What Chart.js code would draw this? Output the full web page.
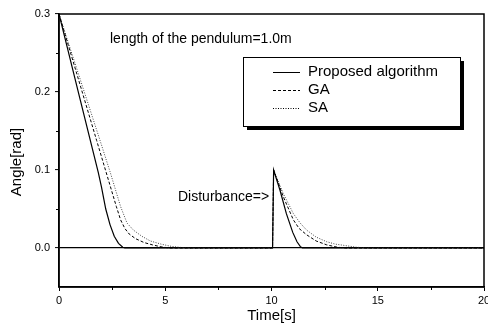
<!DOCTYPE html>
<html>
<head>
<meta charset="utf-8">
<script src="https://cdn.jsdelivr.net/npm/chart.js@4.4.1/dist/chart.umd.min.js"></script>
<style>
    body { margin: 0; background: #fff; }
    canvas { display: block; }
</style>
</head>
<body>
<canvas id="pendulumChart" width="488" height="333"></canvas>
<script>
// values
const timeProposed = [0, 1.0, 1.85, 2.0, 2.2, 2.4, 2.6, 2.8, 3.0, 3.1, 10.05, 10.1, 10.4, 10.7, 11.0, 11.2, 11.35, 11.45, 20];
const angleProposed = [0.3, 0.19, 0.0965, 0.078, 0.05, 0.03, 0.015, 0.006, 0.001, 0, 0, 0.1, 0.074, 0.044, 0.02, 0.008, 0.002, 0, 0];

const timeGA = [0, 1.77, 2.7, 2.9, 3.1, 3.3, 3.6, 4.0, 4.4, 4.8, 5.2, 10.05, 10.1, 10.55, 11.03, 11.3, 11.65, 12.1, 12.6, 13.1, 13.5, 20];
const angleGA = [0.3, 0.138, 0.053, 0.036, 0.025, 0.018, 0.012, 0.007, 0.004, 0.0015, 0, 0, 0.1, 0.066, 0.036, 0.025, 0.017, 0.009, 0.004, 0.001, 0, 0];

const timeSA = [0, 1.93, 2.4, 2.9, 3.2, 3.5, 3.9, 4.3, 4.8, 5.3, 5.8, 6.2, 10.05, 10.1, 10.55, 11.03, 11.35, 11.65, 12.1, 12.6, 13.0, 13.5, 14.0, 14.5, 20];
const angleSA = [0.3, 0.138, 0.098, 0.053, 0.032, 0.023, 0.015, 0.009, 0.005, 0.002, 0.0005, 0, 0, 0.1, 0.07, 0.044, 0.032, 0.023, 0.014, 0.008, 0.005, 0.003, 0.001, 0, 0];

const seriesNames = ["Proposed algorithm", "GA", "SA"];
const xTickValues = [0, 5, 10, 15, 20];
const yTickValues = [0.0, 0.1, 0.2, 0.3];

const FONT = "'Liberation Sans', Arial, sans-serif";

function toPoints(times, angles) {
    return times.map((t, i) => ({ x: t, y: angles[i] }));
}

// frame, minor ticks, y title, text notes and the boxed legend
const decorPlugin = {
    id: "decor",
    afterDatasetsDraw(chart) {
        const ctx = chart.ctx;
        const area = chart.chartArea;
        const xs = chart.scales.x;
        const ys = chart.scales.y;

        ctx.save();
        ctx.strokeStyle = "#000";
        ctx.lineWidth = 1.5;
        ctx.strokeRect(area.left, area.top, area.right - area.left, area.bottom - area.top);

        // minor ticks halfway between the labelled ones
        ctx.lineWidth = 1;
        ctx.beginPath();
        [2.5, 7.5, 12.5, 17.5].forEach(v => {
            const px = Math.round(xs.getPixelForValue(v)) + 0.5;
            ctx.moveTo(px, area.bottom);
            ctx.lineTo(px, area.bottom + 3);
        });
        [0.05, 0.15, 0.25].forEach(v => {
            const py = Math.round(ys.getPixelForValue(v)) + 0.5;
            ctx.moveTo(area.left, py);
            ctx.lineTo(area.left - 3, py);
        });
        ctx.stroke();

        ctx.fillStyle = "#000";
        ctx.textBaseline = "middle";

        // y axis title sits a little below the middle in the original
        ctx.save();
        ctx.font = "15px " + FONT;
        ctx.textAlign = "center";
        ctx.translate(17, area.top + 148);
        ctx.rotate(-Math.PI / 2);
        ctx.fillText("Angle[rad]", 0, 0);
        ctx.restore();

        ctx.font = "14px " + FONT;
        ctx.textAlign = "left";
        ctx.fillText("length of the pendulum=1.0m", area.left + 51, area.top + 25);
        ctx.fillText("Disturbance=>", area.left + 119, area.top + 183);

        // legend box with drop shadow
        const bx = area.left + 184, by = area.top + 43, bw = 217, bh = 69;
        ctx.fillRect(bx + 4, by + 4, bw, bh);
        ctx.fillStyle = "#fff";
        ctx.fillRect(bx, by, bw, bh);
        ctx.strokeStyle = "#000";
        ctx.lineWidth = 1;
        ctx.strokeRect(bx + 0.5, by + 0.5, bw, bh);

        ctx.font = "15px " + FONT;
        chart.data.datasets.forEach((ds, i) => {
            const rowY = by + 15 + i * 18;
            ctx.beginPath();
            ctx.setLineDash(ds.borderDash || []);
            ctx.moveTo(bx + 30, rowY + 0.5);
            ctx.lineTo(bx + 57, rowY + 0.5);
            ctx.stroke();
            ctx.setLineDash([]);
            ctx.fillStyle = "#000";
            ctx.fillText(ds.label, bx + 65, rowY);
        });
        ctx.restore();
    }
};

function renderChart() {
    const ctx = document.getElementById("pendulumChart").getContext("2d");
    new Chart(ctx, {
        type: "line",
        data: {
            datasets: [
                {
                    label: seriesNames[0],
                    data: toPoints(timeProposed, angleProposed),
                    borderColor: "#000",
                    borderWidth: 1.2,
                    pointRadius: 0,
                    tension: 0
                },
                {
                    label: seriesNames[1],
                    data: toPoints(timeGA, angleGA),
                    borderColor: "#000",
                    borderWidth: 1,
                    borderDash: [3, 2],
                    pointRadius: 0,
                    tension: 0
                },
                {
                    label: seriesNames[2],
                    data: toPoints(timeSA, angleSA),
                    borderColor: "#444",
                    borderWidth: 1,
                    borderDash: [1, 1.5],
                    pointRadius: 0,
                    tension: 0
                }
            ]
        },
        options: {
            responsive: false,
            animation: false,
            layout: { padding: { top: 14, right: 4, left: 0, bottom: 0 } },
            plugins: {
                legend: { display: false },
                tooltip: { enabled: false }
            },
            scales: {
                x: {
                    type: "linear",
                    min: 0,
                    max: 20,
                    afterFit: s => {
                        s.height = 46;
                        s.paddingLeft = 0;
                        s.paddingRight = 0;
                    },
                    afterBuildTicks: s => { s.ticks = xTickValues.map(v => ({ value: v })); },
                    grid: { display: true, drawOnChartArea: false, tickLength: 4, tickColor: "#000", tickWidth: 1 },
                    border: { display: true, color: "#000", width: 1.5 },
                    ticks: {
                        color: "#000",
                        padding: 3,
                        maxRotation: 0,
                        font: { family: FONT, size: 11 }
                    },
                    title: {
                        display: true,
                        text: "Time[s]",
                        color: "#000",
                        padding: { top: 0, bottom: 8 },
                        font: { family: FONT, size: 15 }
                    }
                },
                y: {
                    min: -0.05,
                    max: 0.3,
                    afterFit: s => {
                        s.width = 59;
                        s.paddingTop = 0;
                        s.paddingBottom = 0;
                    },
                    afterBuildTicks: s => { s.ticks = yTickValues.map(v => ({ value: v })); },
                    grid: {
                        display: true,
                        color: c => (c.tick && c.tick.value === 0 ? "#000" : "rgba(0,0,0,0)"),
                        lineWidth: 1.2,
                        tickLength: 4,
                        tickColor: "#000",
                        tickWidth: 1
                    },
                    border: { display: true, color: "#000", width: 1.5 },
                    ticks: {
                        color: "#000",
                        padding: 5,
                        font: { family: FONT, size: 11 },
                        callback: v => v.toFixed(1)
                    }
                }
            }
        },
        plugins: [decorPlugin]
    });
}

document.addEventListener("DOMContentLoaded", renderChart);
</script>
</body>
</html>
